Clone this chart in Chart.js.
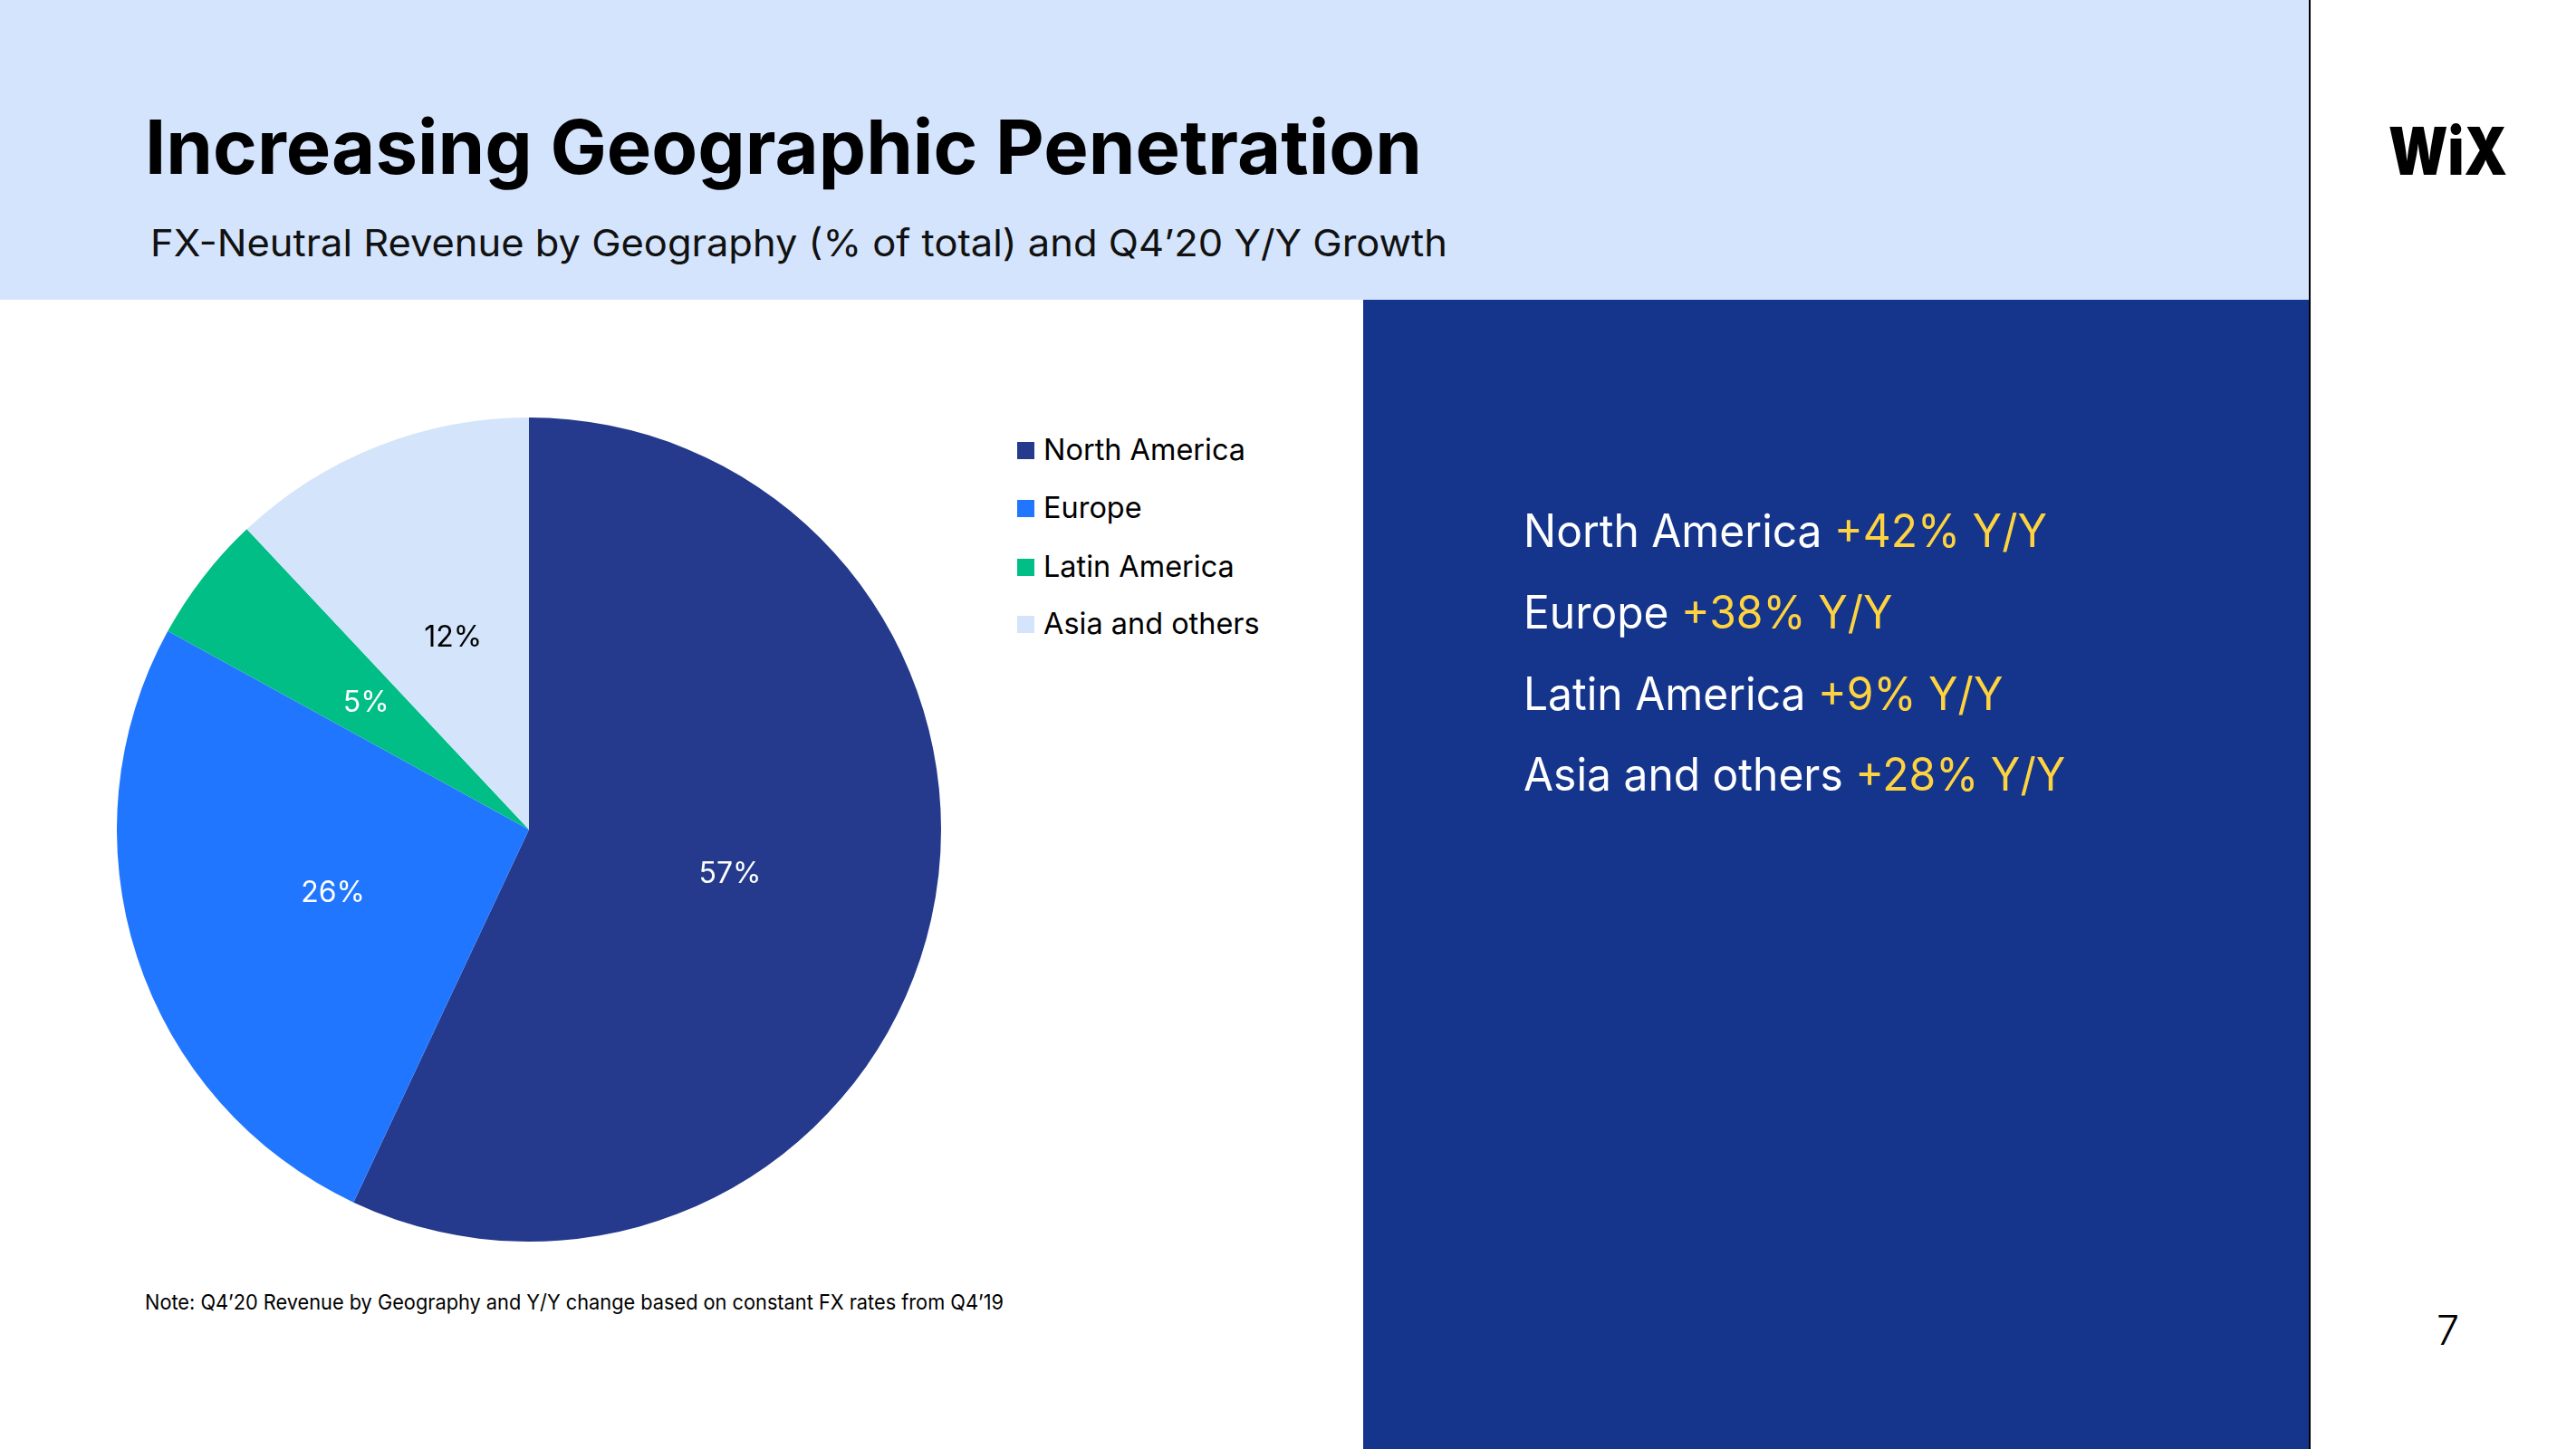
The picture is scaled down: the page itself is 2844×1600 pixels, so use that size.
<!DOCTYPE html>
<html>
<head>
<meta charset="utf-8">
<script src="https://cdn.jsdelivr.net/npm/chart.js@4.4.1/dist/chart.umd.min.js"></script>
<style>
  html, body { margin:0; padding:0; }
  body { width:2844px; height:1600px; position:relative; overflow:hidden; background:#ffffff; font-family: Inter, "Noto Sans", sans-serif; }
  .abs { position:absolute; }
  .t { position:absolute; white-space:nowrap; line-height:1; transform-origin:0 0; display:inline-block; }
  #header { left:0; top:0; width:2549px; height:331px; background:#D4E4FC; }
  #panel { left:1505px; top:331px; width:1044px; height:1269px; background:#15358C; }
  #vline { left:2549px; top:0; width:2px; height:1600px; background:#000; }
  #chartBox { left:129px; top:461px; width:910px; height:910px; }
  .sq { position:absolute; width:19px; height:19px; }
  .yel { color:#FFD33F; }
</style>
</head>
<body>
<div id="header" class="abs"></div>
<div id="panel" class="abs"></div>
<div id="vline" class="abs"></div>

<div id="title" class="t" style="font-weight:700;font-size:83px;color:#000;">Increasing Geographic Penetration</div>
<div id="subtitle" class="t" style="font-weight:400;font-size:41px;color:#111;">FX-Neutral Revenue by Geography (% of total) and Q4’20 Y/Y Growth</div>
<div id="logo" class="t" style="font-weight:900;font-size:73px;color:#000;">WiX</div>
<div id="note" class="t" style="font-weight:400;font-size:23px;color:#000;">Note: Q4’20 Revenue by Geography and Y/Y change based on constant FX rates from Q4’19</div>
<div id="pagenum" class="t" style="font-weight:300;font-size:45px;color:#000;">7</div>

<div id="legend"></div>
<div id="growth"></div>

<div id="chartBox" class="abs"><canvas id="pie"></canvas></div>

<script>
// ---- data ----
const categories = ['North America', 'Europe', 'Latin America', 'Asia and others'];
const shareValues = [57, 26, 5, 12];
const growthValues = [42, 38, 9, 28];
const sliceColors = ['#253A8C', '#2176FF', '#00BE85', '#D3E4FB'];
const labelColors = ['#ffffff', '#ffffff', '#ffffff', '#000000'];

// Inter metrics: baseline offset within a line-height:1 box
const BASE = 0.864;
function placeBaseline(el, left, baseline) {
  const fs = parseFloat(el.style.fontSize);
  el.style.left = left + 'px';
  el.style.top = (baseline - BASE * fs) + 'px';
}
function fitWidth(el, w) {
  el.style.transform = 'none';
  const cur = el.getBoundingClientRect().width;
  const f = w / cur;
  el.style.transform = 'scaleX(' + f + ')';
  return f;
}

// legend (HTML) built from categories/colors
const legend = document.getElementById('legend');
const legendCenters = [497, 561, 626, 689];
const legendEls = [];
categories.forEach((c, i) => {
  const sq = document.createElement('div');
  sq.className = 'sq';
  sq.style.background = sliceColors[i];
  sq.style.left = '1123px';
  sq.style.top = (legendCenters[i] - 9.5) + 'px';
  legend.appendChild(sq);
  const t = document.createElement('div');
  t.className = 't';
  t.style.fontSize = '33px';
  t.style.color = '#000';
  t.textContent = c;
  legend.appendChild(t);
  placeBaseline(t, 1152, legendCenters[i] + 12);
  legendEls.push(t);
});

// growth text panel
const growth = document.getElementById('growth');
const growthBaselines = [604, 694, 784, 873];
const growthEls = [];
categories.forEach((c, i) => {
  const t = document.createElement('div');
  t.className = 't';
  t.style.fontSize = '50px';
  t.style.color = '#ffffff';
  t.innerHTML = c + ' <span class="yel">+' + growthValues[i] + '% Y/Y</span>';
  growth.appendChild(t);
  placeBaseline(t, 1682, growthBaselines[i]);
  growthEls.push(t);
});

function layoutText() {
  const title = document.getElementById('title');
  placeBaseline(title, 160, 193); fitWidth(title, 1410);
  const sub = document.getElementById('subtitle');
  placeBaseline(sub, 166, 283); fitWidth(sub, 1432);
  const logo = document.getElementById('logo');
  placeBaseline(logo, 2637, 193); fitWidth(logo, 131);
  const note = document.getElementById('note');
  placeBaseline(note, 160, 1447); fitWidth(note, 948);
  const pn = document.getElementById('pagenum');
  placeBaseline(pn, 2690, 1485);
  const lf = fitWidth(legendEls[0], 223);
  legendEls.forEach(e => e.style.transform = 'scaleX(' + lf + ')');
  const gf = fitWidth(growthEls[0], 578);
  growthEls.forEach(e => e.style.transform = 'scaleX(' + gf + ')');
}
layoutText();
if (document.fonts && document.fonts.ready) document.fonts.ready.then(layoutText);

// slice label plugin
const sliceLabels = {
  id: 'sliceLabels',
  afterDatasetsDraw(chart) {
    const ctx = chart.ctx;
    const meta = chart.getDatasetMeta(0);
    ctx.save();
    ctx.font = '400 32px Inter, "Noto Sans", sans-serif';
    ctx.textAlign = 'center';
    ctx.textBaseline = 'middle';
    meta.data.forEach((arc, i) => {
      const p = arc.tooltipPosition();
      ctx.fillStyle = labelColors[i];
      ctx.fillText(shareValues[i] + '%', p.x, p.y);
    });
    ctx.restore();
  }
};

new Chart(document.getElementById('pie'), {
  type: 'pie',
  data: {
    labels: categories,
    datasets: [{
      data: shareValues,
      backgroundColor: sliceColors,
      borderWidth: 0,
      hoverOffset: 0
    }]
  },
  options: {
    responsive: true,
    maintainAspectRatio: false,
    animation: false,
    layout: { padding: 0 },
    plugins: {
      legend: { display: false },
      tooltip: { enabled: false }
    }
  },
  plugins: [sliceLabels]
});
</script>
</body>
</html>
